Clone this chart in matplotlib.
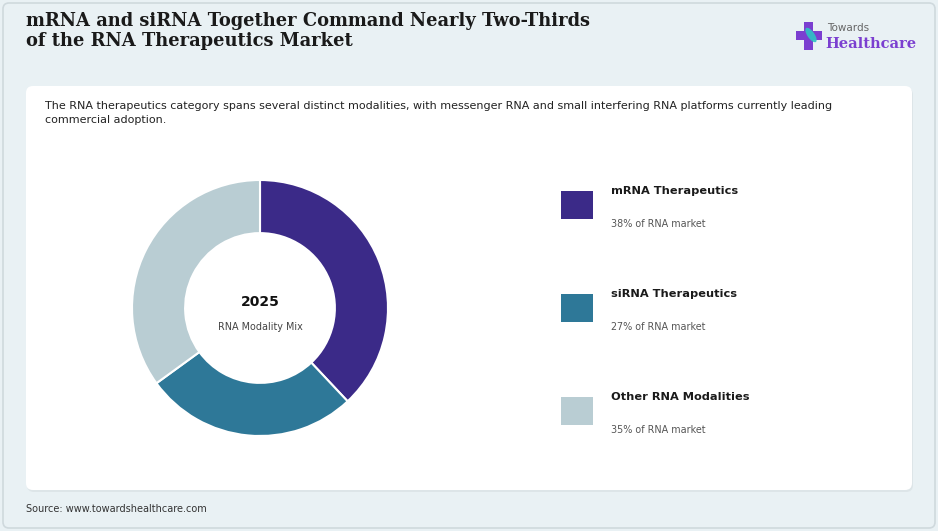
import matplotlib.pyplot as plt
from matplotlib.patches import FancyBboxPatch, Rectangle, Ellipse

# data
categories = ['mRNA Therapeutics', 'siRNA Therapeutics', 'Other RNA Modalities']
shares = [38, 27, 35]
colors = ['#3b2a88', '#2e7898', '#b9cdd3']

W, H = 938, 531
fig = plt.figure(figsize=(W / 100, H / 100), dpi=100)
fig.patch.set_facecolor('#e9f1f4')

# background layer in pixel coords
bg = fig.add_axes([0, 0, 1, 1])
bg.set_xlim(0, W)
bg.set_ylim(H, 0)
bg.axis('off')

bg.add_patch(FancyBboxPatch((3, 3), W - 6, H - 6, boxstyle='round,pad=0,rounding_size=6',
                            fc='#e9f1f4', ec='#cfd9dd', lw=1.2))
# card shadow + card
bg.add_patch(FancyBboxPatch((27, 88), 886, 404, boxstyle='round,pad=0,rounding_size=7',
                            fc='#dde5e8', ec='none'))
bg.add_patch(FancyBboxPatch((26, 86), 886, 404, boxstyle='round,pad=0,rounding_size=7',
                            fc='white', ec='none'))

# title
bg.text(26, 31, 'mRNA and siRNA Together Command Nearly Two-Thirds\nof the RNA Therapeutics Market',
        family='DejaVu Serif', fontweight='bold', fontsize=12.9, color='#1a1a1a',
        va='center', ha='left', linespacing=1.1)

# subtitle
bg.text(45, 113, 'The RNA therapeutics category spans several distinct modalities, with messenger RNA and '
        'small interfering RNA platforms currently leading\ncommercial adoption.',
        fontsize=8.0, color='#222222', va='center', ha='left', linespacing=1.45)

# source
bg.text(26, 509, 'Source: www.towardshealthcare.com', fontsize=7.0, color='#333333',
        va='center', ha='left')

# logo
bg.add_patch(Rectangle((804, 22), 9, 28, fc='#7b3fd0', ec='none'))
bg.add_patch(Rectangle((796, 31), 26, 9, fc='#7b3fd0', ec='none'))
bg.add_patch(Ellipse((811, 35), 7, 17, angle=-35, fc='#2ec4c4', ec='none', alpha=0.9))
bg.text(827, 28, 'Towards', fontsize=7.5, color='#666666', va='center', ha='left')
bg.text(825, 44, 'Healthcare', family='DejaVu Serif', fontweight='bold', fontsize=10.5,
        color='#7b3fd0', va='center', ha='left')

# legend
leg_y = [205, 308, 411]
for cat, val, col, y in zip(categories, shares, colors, leg_y):
    bg.add_patch(Rectangle((561, y - 14), 32, 28, fc=col, ec='none'))
    bg.text(611, y - 14, cat, fontsize=8.2, fontweight='bold', color='#1a1a1a',
            va='center', ha='left')
    bg.text(611, y + 19, f'{val}% of RNA market', fontsize=6.9, color='#555555',
            va='center', ha='left')

# donut
cx, cy, r = 260, 308, 128
ax = fig.add_axes([(cx - r) / W, (H - cy - r) / H, 2 * r / W, 2 * r / H])
ax.pie(shares, colors=colors, startangle=90, counterclock=False, radius=1,
       wedgeprops=dict(width=0.415, edgecolor='white', linewidth=1.5))
ax.set_xlim(-1, 1)
ax.set_ylim(-1, 1)
ax.axis('off')
ax.text(0, 0.05, '2025', fontsize=10, fontweight='bold', ha='center', va='center', color='#111111')
ax.text(0, -0.145, 'RNA Modality Mix', fontsize=6.9, ha='center', va='center', color='#444444')

fig.savefig('out.png', dpi=100, facecolor=fig.get_facecolor())
